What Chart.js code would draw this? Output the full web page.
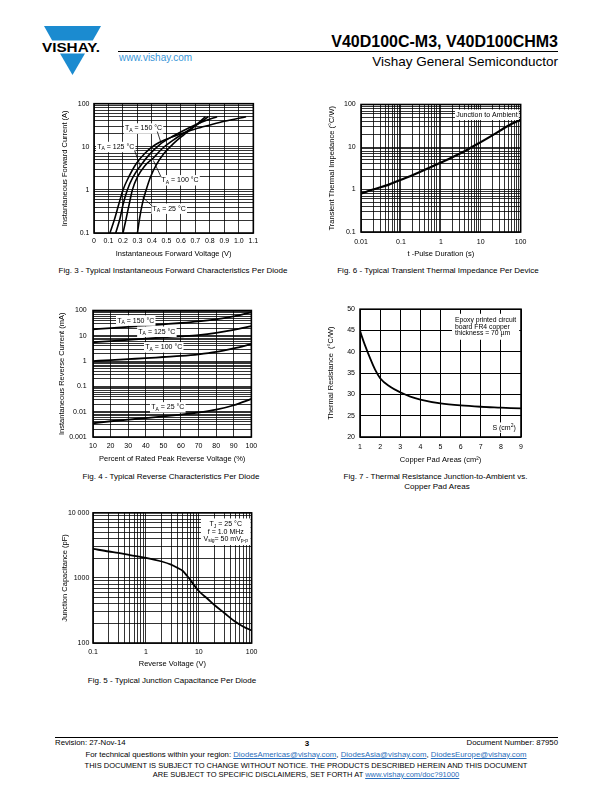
<!DOCTYPE html>
<html>
<head>
<meta charset="utf-8">
<script src="https://cdn.jsdelivr.net/npm/chart.js@4.4.1/dist/chart.umd.min.js"></script>
<style>
  body { margin: 0; width: 612px; height: 792px; position: relative; background: #fff; color: #000;
         font-family: "Liberation Sans", Arial, sans-serif; overflow: hidden; }
  .t { position: absolute; white-space: nowrap; line-height: 1; }
  .c { transform: translateX(-50%); }
  .rule { position: absolute; background: #000; }
  canvas { position: absolute; }
  a { color: #2a6ebb; text-decoration: underline; }
</style>
</head>
<body>

<!-- шапка -->
<svg style="position:absolute;left:0;top:0" width="130" height="80">
  <polygon points="44,26 101,26 92.8,40.5 52.2,40.5" fill="#1b8bd0"/>
  <polygon points="60,53.5 85,53.5 72.5,75" fill="#1b8bd0"/>
  <text x="42" y="51.7" font-family="Liberation Sans" font-weight="bold" font-size="12.5"
        textLength="58" lengthAdjust="spacingAndGlyphs">VISHAY.</text>
</svg>
<div class="t" style="right:54px;top:34px;font-size:16px;font-weight:bold">V40D100C-M3, V40D100CHM3</div>
<div class="rule" style="left:118px;top:51px;width:440px;height:1px"></div>
<div class="t" style="left:119px;top:53px;font-size:10px;color:#3a96d8">www.vishay.com</div>
<div class="t" style="right:54px;top:55px;font-size:13.5px">Vishay General Semiconductor</div>

<!-- графики -->
<canvas id="fwdChart" width="212" height="170" style="left:50px;top:95px"></canvas>
<canvas id="impChart" width="212" height="170" style="left:320px;top:95px"></canvas>
<canvas id="revChart" width="212" height="170" style="left:50px;top:300px"></canvas>
<canvas id="rthChart" width="212" height="170" style="left:320px;top:300px"></canvas>
<canvas id="capChart" width="212" height="170" style="left:50px;top:505px"></canvas>

<!-- подписи -->
<div class="t c" style="left:173px;top:267px;font-size:8px">Fig. 3 - Typical Instantaneous Forward Characteristics Per Diode</div>
<div class="t c" style="left:438px;top:267px;font-size:8px">Fig. 6 - Typical Transient Thermal Impedance Per Device</div>
<div class="t c" style="left:171px;top:472.5px;font-size:8px">Fig. 4 - Typical Reverse Characteristics Per Diode</div>
<div class="t c" style="left:435.5px;top:472.5px;font-size:8px">Fig. 7 - Thermal Resistance Junction-to-Ambient vs.</div>
<div class="t c" style="left:437px;top:483px;font-size:8px">Copper Pad Areas</div>
<div class="t c" style="left:172px;top:677px;font-size:8px">Fig. 5 - Typical Junction Capacitance Per Diode</div>

<!-- подвал -->
<div class="rule" style="left:55px;top:737px;width:503px;height:1.2px"></div>
<div class="t" style="left:55px;top:739px;font-size:7.8px">Revision: 27-Nov-14</div>
<div class="t c" style="left:307px;top:740px;font-size:8px;font-weight:bold">3</div>
<div class="t" style="right:54px;top:739px;font-size:7.8px">Document Number: 87950</div>
<div class="t c" style="left:306px;top:751px;font-size:7.8px">For technical questions within your region: <a>DiodesAmericas@vishay.com</a>, <a>DiodesAsia@vishay.com</a>, <a>DiodesEurope@vishay.com</a></div>
<div class="t c" style="left:306px;top:762px;font-size:7.5px">THIS DOCUMENT IS SUBJECT TO CHANGE WITHOUT NOTICE. THE PRODUCTS DESCRIBED HEREIN AND THIS DOCUMENT</div>
<div class="t c" style="left:306px;top:771px;font-size:7.5px">ARE SUBJECT TO SPECIFIC DISCLAIMERS, SET FORTH AT <a>www.vishay.com/doc?91000</a></div>

<script>
const FONT = '"Liberation Sans", Arial, sans-serif';
Chart.defaults.font.family = FONT;

// сетка логарифмической оси: 1..9 x 10^n
function decades(min, max) {
  const out = [];
  for (let e = Math.floor(Math.log10(min) + 1e-9); e <= Math.log10(max) + 1e-9; e++) {
    for (let m = 1; m < 10; m++) {
      const v = parseFloat((m * Math.pow(10, e)).toPrecision(2));
      if (v >= min * 0.999 && v <= max * 1.001) out.push(v);
    }
  }
  return out;
}

// Fig. 3 - прямая ветвь
const fwdXTicks = [0, 0.1, 0.2, 0.3, 0.4, 0.5, 0.6, 0.7, 0.8, 0.9, 1.0, 1.1];
const fwdXLabels = ['0', '0.1', '0.2', '0.3', '0.4', '0.5', '0.6', '0.7', '0.8', '0.9', '1.0', '1.1'];
const fwdYLabelVals = [0.1, 1, 10, 100];
const fwdYLabels = ['0.1', '1', '10', '100'];
const fwdV150 = [0.11, 0.14, 0.17, 0.2, 0.24, 0.29, 0.35, 0.42, 0.5, 0.6, 0.7, 0.8, 0.9, 1.05];
const fwdI150 = [0.1, 0.2, 0.45, 1, 2, 4, 7, 11, 15, 20, 26, 32, 39, 50];
const fwdV125 = [0.15, 0.18, 0.2, 0.23, 0.27, 0.32, 0.38, 0.45, 0.55, 0.65, 0.75, 0.85];
const fwdI125 = [0.1, 0.22, 0.45, 1, 2, 3.6, 6.5, 11, 18, 27, 38, 50];
const fwdV100 = [0.2, 0.22, 0.245, 0.265, 0.3, 0.35, 0.41, 0.47, 0.55, 0.65, 0.72, 0.79];
const fwdI100 = [0.1, 0.2, 0.5, 1, 2, 3.6, 5.5, 9, 14.5, 24, 34, 50];
const fwdV25 = [0.3, 0.315, 0.335, 0.36, 0.39, 0.43, 0.48, 0.55, 0.62, 0.7, 0.77];
const fwdI25 = [0.1, 0.22, 0.5, 1, 2, 3.8, 6.8, 12, 19, 31, 50];

// Fig. 6 - переходное тепловое сопротивление
const impXLabelVals = [0.01, 0.1, 1, 10, 100];
const impXLabels = ['0.01', '0.1', '1', '10', '100'];
const impYLabelVals = [0.1, 1, 10, 100];
const impYLabels = ['0.1', '1', '10', '100'];
const impT = [0.01, 0.02, 0.05, 0.1, 0.2, 0.5, 1, 2, 5, 10, 20, 50, 100];
const impZ = [0.8, 1.0, 1.3, 1.7, 2.2, 3.2, 4.3, 5.8, 9.0, 13, 19, 32, 44];

// Fig. 4 - обратный ток
const revXTicks = [10, 20, 30, 40, 50, 60, 70, 80, 90, 100];
const revXLabels = ['10', '20', '30', '40', '50', '60', '70', '80', '90', '100'];
const revYLabelVals = [0.001, 0.01, 0.1, 1, 10, 100];
const revYLabels = ['0.001', '0.01', '0.1', '1', '10', '100'];
const revPct = [10, 20, 30, 40, 50, 60, 70, 80, 90, 100];
const rev150 = [18, 20, 22.5, 25.5, 28.5, 32, 37, 45, 58, 85];
const rev125 = [5.5, 6.2, 6.9, 7.7, 8.6, 9.5, 10.7, 13, 17, 24];
const rev100 = [1.0, 1.1, 1.2, 1.3, 1.45, 1.6, 1.85, 2.3, 3.2, 4.7];
const rev25 = [0.0035, 0.0042, 0.0049, 0.0056, 0.0065, 0.0077, 0.0093, 0.012, 0.018, 0.032];

// Fig. 7 - тепловое сопротивление от площади
const rthXTicks = [1, 2, 3, 4, 5, 6, 7, 8, 9];
const rthXLabels = ['1', '2', '3', '4', '5', '6', '7', '8', '9'];
const rthYTicks = [20, 25, 30, 35, 40, 45, 50];
const rthYLabels = ['20', '25', '30', '35', '40', '45', '50'];
const rthArea = [1, 1.1, 1.25, 1.5, 1.75, 2, 2.5, 3, 3.5, 4, 5, 6, 7, 8, 9];
const rthR = [45, 43.5, 41.5, 38.5, 35.8, 33.8, 31.8, 30.5, 29.5, 28.8, 27.9, 27.4, 27.1, 26.9, 26.7];

// Fig. 5 - ёмкость перехода
const capXLabelVals = [0.1, 1, 10, 100];
const capXLabels = ['0.1', '1', '10', '100'];
const capYLabelVals = [100, 1000, 10000];
const capYLabels = ['100', '1000', '10 000'];
const capV = [0.1, 0.2, 0.3, 0.5, 1, 2, 3, 4, 5, 6, 7, 8, 10, 15, 20, 30, 50, 70, 100];
const capC = [2800, 2550, 2430, 2250, 2040, 1790, 1600, 1420, 1280, 1080, 920, 790, 630, 470, 380, 292, 210, 178, 156];

// надписи на графиках (в координатах данных)
const TA = (t) => ['T', { sub: 'A' }, t];
const notes = {
  fwdChart: [
    { x: 0.342, y: 26.5, lines: [TA(' = 150 °C')], arrow: [[0.437, 22.6], [0.464, 11.9]] },
    { x: 0.150, y: 9.9, lines: [TA(' = 125 °C')], arrow: [[0.28, 8.2], [0.321, 3.5]] },
    { x: 0.594, y: 1.67, lines: [TA(' = 100 °C')], arrow: [[0.464, 1.96], [0.41, 4.8]] },
    { x: 0.519, y: 0.367, lines: [TA(' = 25 °C')], arrow: [[0.403, 0.42], [0.335, 0.68]] }
  ],
  impChart: [
    { x: 14.3, y: 57.3, lines: [['Junction to Ambient']] }
  ],
  revChart: [
    { x: 34.3, y: 40, lines: [TA(' = 150 °C')] },
    { x: 46.3, y: 14.4, lines: [TA(' = 125 °C')] },
    { x: 50.2, y: 3.5, lines: [TA(' = 100 °C')] },
    { x: 52.5, y: 0.0149, lines: [TA(' = 25 °C')] }
  ],
  rthChart: [
    { x: 5.72, y: 45.88, align: 'left', size: 6.8, lh: 6.65, pad: 3,
      lines: [['Epoxy printed circuit'], ['board FR4 copper'], ['thickness = 70 µm']] },
    { x: 8.16, y: 22.2, lines: [['S (cm', { sup: '2' }, ')']] }
  ],
  capChart: [
    { x: 32.4, y: 5130, lh: 7.2, pad: 2.5,
      lines: [['T', { sub: 'J' }, ' = 25 °C'], ['f = 1.0 MHz'], ['V', { sub: 'sig' }, '= 50 mV', { sub: 'p-p' }]] }
  ]
};

function partText(p) { return typeof p === 'string' ? p : (p.sub || p.sup); }
function partFont(size, p) { return (typeof p === 'string' ? size : size * 0.72) + 'px ' + FONT; }
function partsWidth(ctx, parts, size) {
  let w = 0;
  parts.forEach(p => { ctx.font = partFont(size, p); w += ctx.measureText(partText(p)).width; });
  return w;
}
function drawParts(ctx, parts, x, y, size) {
  ctx.textBaseline = 'middle';
  ctx.textAlign = 'left';
  ctx.fillStyle = '#000';
  parts.forEach(p => {
    const txt = partText(p);
    const dy = typeof p === 'string' ? 0 : (p.sub ? size * 0.3 : -size * 0.35);
    ctx.font = partFont(size, p);
    ctx.fillText(txt, x, y + dy);
    x += ctx.measureText(txt).width;
  });
}

const notesPlugin = {
  id: 'notes',
  afterDatasetsDraw(chart) {
    const list = notes[chart.canvas.id] || [];
    const ctx = chart.ctx, xs = chart.scales.x, ys = chart.scales.y;
    list.forEach(n => {
      const size = n.size || 7, lh = n.lh || size * 1.15, pad = n.pad === undefined ? 1.2 : n.pad;
      const widths = n.lines.map(l => partsWidth(ctx, l, size));
      const w = Math.max(...widths), h = lh * n.lines.length;
      const px = xs.getPixelForValue(n.x), py = ys.getPixelForValue(n.y);
      const left = n.align === 'left' ? px : px - w / 2;
      const top = py - h / 2;
      ctx.save();
      ctx.fillStyle = '#fff';
      ctx.fillRect(left - pad, top - pad, w + 2 * pad, h + 2 * pad);
      n.lines.forEach((l, i) => {
        const lx = n.align === 'left' ? left : px - widths[i] / 2;
        drawParts(ctx, l, lx, top + lh * (i + 0.5), size);
      });
      if (n.arrow) {
        ctx.strokeStyle = '#000';
        ctx.lineWidth = 0.8;
        ctx.beginPath();
        ctx.moveTo(xs.getPixelForValue(n.arrow[0][0]), ys.getPixelForValue(n.arrow[0][1]));
        ctx.lineTo(xs.getPixelForValue(n.arrow[1][0]), ys.getPixelForValue(n.arrow[1][1]));
        ctx.stroke();
      }
      ctx.restore();
    });
  }
};

// рамка вокруг поля графика
const framePlugin = {
  id: 'frame',
  afterDraw(chart) {
    const a = chart.chartArea, ctx = chart.ctx;
    ctx.save();
    ctx.strokeStyle = '#000';
    ctx.lineWidth = 1.6;
    ctx.strokeRect(a.left, a.top, a.right - a.left, a.bottom - a.top);
    ctx.restore();
  }
};

function labeler(vals, texts) {
  return (v) => {
    const i = vals.findIndex(a => Math.abs(a - v) <= Math.abs(a) * 1e-6 + 1e-12);
    return i < 0 ? '' : texts[i];
  };
}

function axis(o) {
  return {
    type: o.type, min: o.min, max: o.max, position: o.position,
    afterBuildTicks: s => { s.ticks = o.ticks.map(v => ({ value: v })); },
    afterFit: s => { if (o.width) s.width = o.width; if (o.height) s.height = o.height; },
    grid: { color: '#000', lineWidth: o.gridWidth || 0.8, drawTicks: false },
    border: { display: false },
    ticks: { autoSkip: false, maxRotation: 0, minRotation: 0, padding: o.pad, color: '#000',
             font: { size: 7 }, callback: o.label },
    title: { display: true, text: o.title, color: '#000', font: { size: 7.5 }, padding: o.titlePad }
  };
}

function series(xs, ys, width) {
  return {
    data: xs.map((x, i) => ({ x: x, y: ys[i] })),
    borderColor: '#000', borderWidth: width, pointRadius: 0,
    cubicInterpolationMode: 'monotone', fill: false
  };
}

function makeChart(id, datasets, xAxis, yAxis, padding) {
  return new Chart(document.getElementById(id), {
    type: 'line',
    data: { datasets: datasets },
    options: {
      responsive: false, animation: false, devicePixelRatio: 1,
      layout: { padding: padding },
      plugins: { legend: { display: false }, tooltip: { enabled: false } },
      scales: { x: axis(xAxis), y: axis(yAxis) }
    },
    plugins: [notesPlugin, framePlugin]
  });
}

// Fig. 3
makeChart('fwdChart',
  [series(fwdV150, fwdI150, 1.6), series(fwdV125, fwdI125, 1.6), series(fwdV100, fwdI100, 1.6), series(fwdV25, fwdI25, 1.6)],
  { type: 'linear', position: 'bottom', min: 0, max: 1.1, ticks: fwdXTicks, label: labeler(fwdXTicks, fwdXLabels),
    height: 32, pad: 3.8, title: 'Instantaneous Forward Voltage (V)', titlePad: { top: 0, bottom: 6.5 } },
  { type: 'logarithmic', position: 'left', min: 0.1, max: 100, ticks: decades(0.1, 100), label: labeler(fwdYLabelVals, fwdYLabels),
    width: 44, pad: 4.5, title: 'Instantaneous Forward Current (A)', titlePad: { top: 10.5, bottom: 0 } },
  { left: 0, right: 7, top: 8, bottom: 0 });

// Fig. 6
makeChart('impChart',
  [series(impT, impZ, 2.2)],
  { type: 'logarithmic', position: 'bottom', min: 0.01, max: 100, ticks: decades(0.01, 100), label: labeler(impXLabelVals, impXLabels),
    height: 33, pad: 5.5, title: 't -Pulse Duration (s)', titlePad: { top: 0, bottom: 6.2 } },
  { type: 'logarithmic', position: 'left', min: 0.1, max: 100, ticks: decades(0.1, 100), label: labeler(impYLabelVals, impYLabels),
    width: 41, pad: 5.3, title: 'Transient Thermal Impedance (°C/W)', titlePad: { top: 7.2, bottom: 0 } },
  { left: 0, right: 10, top: 7, bottom: 0 });

// Fig. 4
makeChart('revChart',
  [series(revPct, rev150, 1.8), series(revPct, rev125, 1.8), series(revPct, rev100, 1.8), series(revPct, rev25, 1.8)],
  { type: 'linear', position: 'bottom', min: 10, max: 100, ticks: revXTicks, label: labeler(revXTicks, revXLabels),
    height: 33, pad: 4.8, title: 'Percent of Rated Peak Reverse Voltage (%)', titlePad: { top: 0, bottom: 6.2 } },
  { type: 'logarithmic', position: 'left', min: 0.001, max: 100, ticks: decades(0.001, 100), label: labeler(revYLabelVals, revYLabels),
    width: 43, pad: 6.3, title: 'Instantaneous Reverse Current (mA)', titlePad: { top: 7.2, bottom: 0 } },
  { left: 0, right: 8, top: 8, bottom: 0 });

// Fig. 7
makeChart('rthChart',
  [series(rthArea, rthR, 1.8)],
  { type: 'linear', position: 'bottom', min: 1, max: 9, ticks: rthXTicks, label: labeler(rthXTicks, rthXLabels),
    height: 33, pad: 5.5, gridWidth: 1, title: 'Copper Pad Areas (cm²)', titlePad: { top: 0, bottom: 5.5 } },
  { type: 'linear', position: 'left', min: 20, max: 50, ticks: rthYTicks, label: labeler(rthYTicks, rthYLabels),
    width: 40, pad: 5, gridWidth: 1, title: 'Thermal Resistance  (°C/W)', titlePad: { top: 6.5, bottom: 0 } },
  { left: 0, right: 11, top: 8, bottom: 0 });

// Fig. 5
makeChart('capChart',
  [series(capV, capC, 1.8)],
  { type: 'logarithmic', position: 'bottom', min: 0.1, max: 100, ticks: decades(0.1, 100), label: labeler(capXLabelVals, capXLabels),
    height: 32, pad: 4.5, title: 'Reverse Voltage (V)', titlePad: { top: 0, bottom: 6.2 } },
  { type: 'logarithmic', position: 'left', min: 100, max: 10000, ticks: decades(100, 10000), label: labeler(capYLabelVals, capYLabels),
    width: 43, pad: 3.7, title: 'Junction Capacitance (pF)', titlePad: { top: 10.5, bottom: 0 } },
  { left: 0, right: 8, top: 7, bottom: 0 });
</script>
</body>
</html>
